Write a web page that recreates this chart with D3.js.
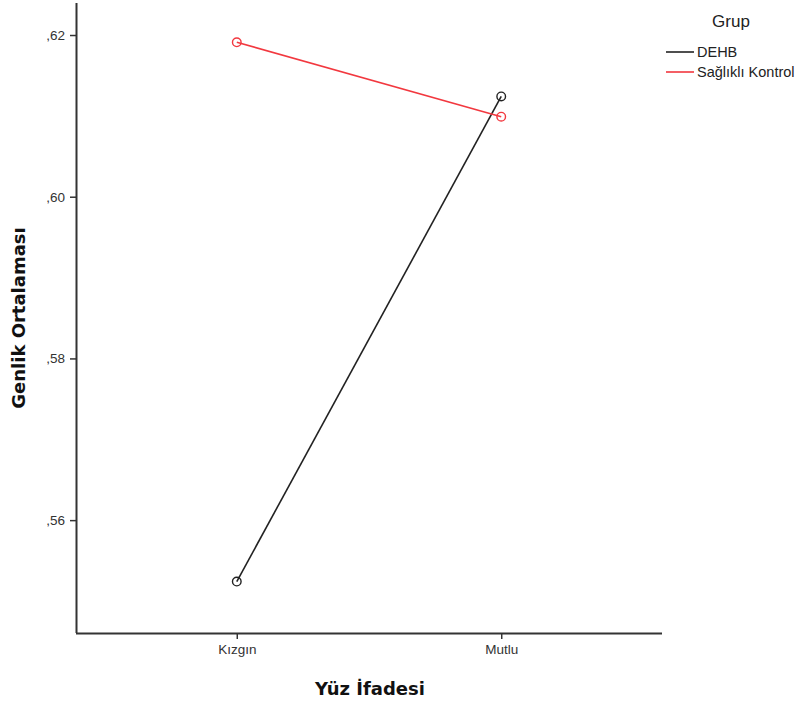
<!DOCTYPE html>
<html><head><meta charset="utf-8">
<script src="https://cdn.jsdelivr.net/npm/d3@7"></script>
<style>body{margin:0;background:#fff}svg{display:block}</style>
</head><body>
<svg id="c" width="799" height="707"></svg>
<script>
const categories = ["Kızgın", "Mutlu"];
const seriesNames = ["DEHB", "Sağlıklı Kontrol"];
const dehbValues = [0.5524, 0.6124];
const kontrolValues = [0.6191, 0.6099];
const yTicks = [0.56, 0.58, 0.60, 0.62];
const colors = ["#222222", "#f2383f"];

(function () {
const svg = d3.select("#c");
const mL = 76, mR = 662, mT = 3, mB = 633;
const x = d3.scalePoint().domain(categories).range([mL, mR]).padding(0.608);
const y = d3.scaleLinear().domain([0.54604, 0.62396]).range([mB, mT]);
const font = "'Liberation Sans', Arial, sans-serif";

const yAxis = svg.append("g").attr("transform", `translate(${mL},0)`)
  .call(d3.axisLeft(y).tickValues(yTicks).tickSize(6).tickPadding(5)
    .tickFormat(d => "," + d3.format(".2f")(d).split(".")[1]));
const xAxis = svg.append("g").attr("transform", `translate(0,${mB})`)
  .call(d3.axisBottom(x).tickSize(6).tickPadding(5));
[yAxis, xAxis].forEach(g => {
  g.selectAll("path.domain").attr("stroke", "#333").attr("stroke-width", 2);
  g.selectAll(".tick line").attr("stroke", "#333").attr("stroke-width", 1.5);
  g.selectAll(".tick text").attr("fill", "#333").style("font-family", font).style("font-size", "13.5px");
});
yAxis.select("path.domain").attr("d", `M0.5,${mT}V${mB}`);
xAxis.select("path.domain").attr("d", `M${mL},0.5H${mR}`);

const series = [dehbValues, kontrolValues];
const line = d3.line().x((d, i) => x(categories[i])).y(d => y(d));
series.forEach((vals, s) => {
  svg.append("path").datum(vals).attr("d", line).attr("fill", "none")
    .attr("stroke", colors[s]).attr("stroke-width", 1.6);
});
series.forEach((vals, s) => {
  svg.selectAll(null).data(vals).enter().append("circle")
    .attr("cx", (d, i) => x(categories[i])).attr("cy", d => y(d)).attr("r", 4.3)
    .attr("fill", "none").attr("stroke", colors[s]).attr("stroke-width", 1.4);
});

svg.append("text").attr("x", 370).attr("y", 695).attr("text-anchor", "middle")
  .style("font-family", "'DejaVu Sans', sans-serif").style("font-weight", "bold").style("font-size", "18px")
  .attr("fill", "#111").text("Yüz İfadesi");
svg.append("text").attr("transform", "translate(25,318) rotate(-90)").attr("text-anchor", "middle")
  .style("font-family", "'DejaVu Sans', sans-serif").style("font-weight", "bold").style("font-size", "18px")
  .attr("fill", "#111").text("Genlik Ortalaması");

const lg = svg.append("g");
lg.append("text").attr("x", 731).attr("y", 27).attr("text-anchor", "middle")
  .style("font-family", font).style("font-size", "17px").attr("fill", "#222").text("Grup");
seriesNames.forEach((n, i) => {
  const yy = 52 + i * 20;
  lg.append("line").attr("x1", 666).attr("x2", 694).attr("y1", yy).attr("y2", yy)
    .attr("stroke", colors[i]).attr("stroke-width", 1.6);
  lg.append("text").attr("x", 697).attr("y", yy + 5)
    .style("font-family", font).style("font-size", "14.5px").attr("fill", "#222").text(n);
});
})();
</script>
</body></html>
